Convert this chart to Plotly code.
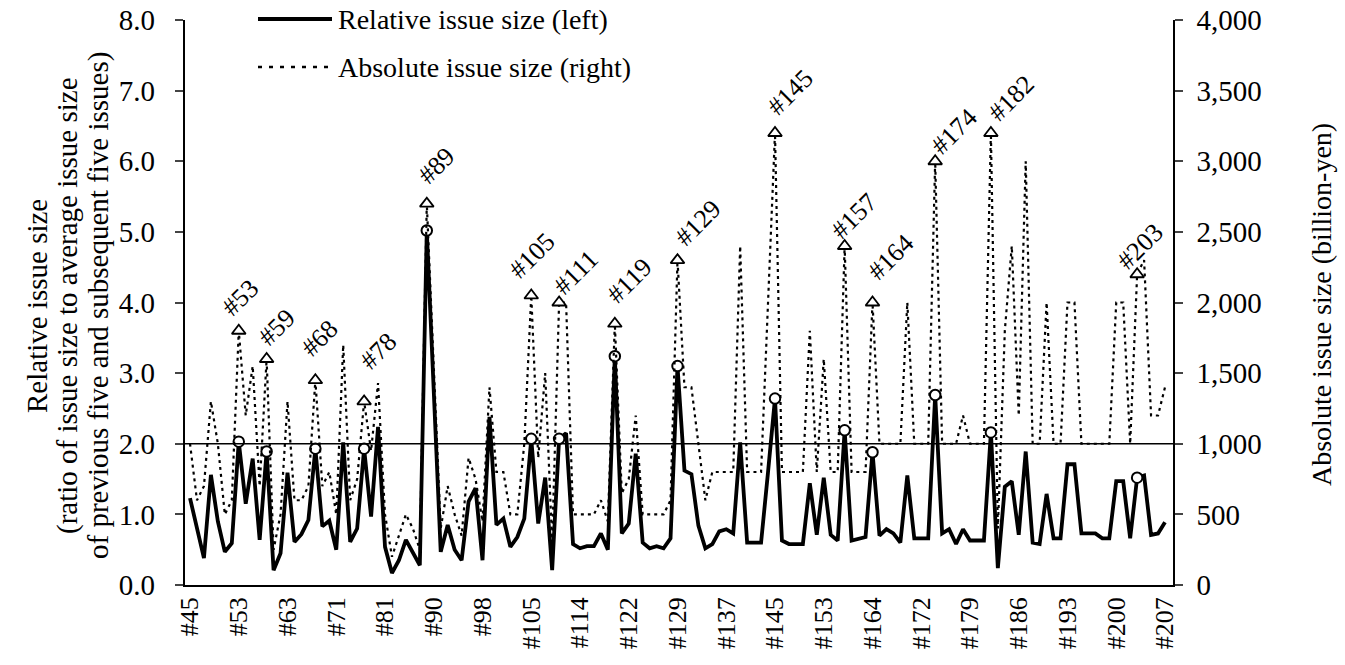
import plotly.graph_objects as go

tick_labels = ["#45", "#53", "#63", "#71", "#81", "#90", "#98", "#105", "#114", "#122", "#129",
               "#137", "#145", "#153", "#164", "#172", "#179", "#186", "#193", "#200", "#207"]

relative = [1.23, 0.8, 0.38, 1.56, 0.9, 0.47, 0.59, 2.03,
            1.15, 1.79, 0.64, 1.89, 0.21, 0.45, 1.59,
            0.61, 0.72, 0.92, 1.93, 0.83, 0.91, 0.5,
            2.02, 0.61, 0.8, 1.93, 0.97, 2.24, 0.54,
            0.17, 0.35, 0.64, 0.45, 0.28, 5.02, 2.7,
            0.47, 0.85, 0.5, 0.35, 1.18, 1.37, 0.35,
            2.38, 0.85, 0.94, 0.54, 0.68, 0.94, 2.07,
            0.87, 1.52, 0.21, 2.07, 2.15, 0.58, 0.52,
            0.55, 0.55, 0.73, 0.5, 3.24, 0.73, 0.87,
            1.86, 0.6, 0.52, 0.55, 0.52, 0.66, 3.1,
            1.62, 1.57, 0.84, 0.52, 0.58, 0.76, 0.79,
            0.73, 2.02, 0.6, 0.6, 0.6, 1.6, 2.64,
            0.63, 0.58, 0.58, 0.58, 1.44, 0.71, 1.52,
            0.71, 0.63, 2.19, 0.63, 0.66, 0.68, 1.88,
            0.7, 0.79, 0.73, 0.6, 1.55, 0.66, 0.66, 0.66, 2.69,
            0.73, 0.79, 0.58, 0.79, 0.63, 0.63, 0.63, 2.16,
            0.24, 1.39, 1.47, 0.71, 1.89, 0.6, 0.58, 1.29,
            0.66, 0.66, 1.71, 1.71, 0.73, 0.73, 0.73, 0.66,
            0.66, 1.47, 1.47, 0.66, 1.52, 1.55, 0.71, 0.73, 0.89]

absolute = [1000, 600, 700, 1300, 1000, 500, 600, 1800,
            1200, 1550, 700, 1600, 250, 500, 1300,
            600, 600, 700, 1450, 700, 800, 500,
            1700, 600, 750, 1300, 950, 1430, 500,
            200, 350, 500, 400, 250, 2700, 1600,
            400, 700, 500, 350, 900, 750, 450,
            1400, 800, 800, 500, 500, 1000, 2050,
            900, 1500, 300, 2000, 2000, 500, 500,
            500, 500, 600, 450, 1850, 650, 750,
            1200, 500, 500, 500, 500, 600, 2300,
            1400, 1400, 1000, 600, 800, 800, 800,
            800, 2400, 800, 800, 800, 2000, 3200,
            800, 800, 800, 800, 1800, 800, 1600,
            800, 800, 2400, 800, 800, 800, 2000,
            1000, 1000, 1000, 1000, 2000, 1000, 1000, 1000, 3000,
            1000, 1000, 1000, 1200, 1000, 1000, 1000, 3200,
            400, 1800, 2400, 1200, 3000, 1000, 1000, 2000,
            1000, 1000, 2000, 2000, 1000, 1000, 1000, 1000,
            1000, 2000, 2000, 1000, 2200, 2300, 1200, 1200, 1400]

marked_labels = ["#53", "#59", "#68", "#78", "#89", "#105", "#111", "#119",
                 "#129", "#145", "#157", "#164", "#174", "#182", "#203"]
marked_index = [7, 11, 18, 25, 34, 49, 53, 61, 70, 84, 94, 98, 107, 115, 136]
# label placement (pixel offset of the text centre from its triangle)
label_dx = [2, 10, 4, 14, 10, 1, 17, 15, 20, 15, 9, 18, 19, 20, 3]
label_dy = [33, 32, 42, 50, 38, 40, 30, 43, 37, 41, 30, 45, 30, 35, 28]

FONT = "Liberation Serif"
W, H = 1345, 665
PLOT_L, PLOT_R, PLOT_T, PLOT_B = 185, 1173, 20, 585   # pixel box of the plot area
PW, PH = PLOT_R - PLOT_L, PLOT_B - PLOT_T
NBSP = "\u00a0"


def px(xp):
    return (xp - PLOT_L) / PW


def py(yp):
    return (PLOT_B - yp) / PH


x = list(range(len(relative)))

fig = go.Figure()
fig.add_trace(go.Scatter(x=x, y=absolute, yaxis="y2", mode="lines",
                         line=dict(color="black", width=2.2, dash="3px,4px"),
                         name="Absolute issue size (right)", showlegend=False))
fig.add_trace(go.Scatter(x=x, y=relative, mode="lines",
                         line=dict(color="black", width=3.8),
                         name="Relative issue size (left)", showlegend=False))
fig.add_trace(go.Scatter(x=marked_index, y=[relative[i] for i in marked_index], mode="markers",
                         marker=dict(symbol="circle", size=10.5, color="white",
                                     line=dict(color="black", width=2)),
                         showlegend=False, hoverinfo="skip"))
fig.add_trace(go.Scatter(x=marked_index, y=[absolute[i] for i in marked_index], yaxis="y2",
                         mode="markers",
                         marker=dict(symbol="triangle-up", size=12, color="white",
                                     line=dict(color="black", width=1.8)),
                         showlegend=False, hoverinfo="skip"))

annotations = []
for lab, i, dx, dy in zip(marked_labels, marked_index, label_dx, label_dy):
    annotations.append(dict(x=i, y=absolute[i], xref="x", yref="y2", text=lab,
                            textangle=-45, showarrow=False, xanchor="center", yanchor="middle",
                            xshift=dx, yshift=dy, font=dict(family=FONT, size=26, color="black")))

# y-axis titles
left_titles = ["Relative issue size",
               "(ratio of issue size to average issue size",
               "of previous five and subsequent five issues)"]
left_title_x = [37, 67, 98]
for t, xp in zip(left_titles, left_title_x):
    annotations.append(dict(x=px(xp), y=py(306), xref="paper", yref="paper",
                            text=t, textangle=-90, showarrow=False,
                            xanchor="center", yanchor="middle",
                            font=dict(family=FONT, size=29, color="black")))
annotations.append(dict(x=px(1321), y=py(305), xref="paper", yref="paper",
                        text="Absolute issue size (billion-yen)", textangle=-90, showarrow=False,
                        xanchor="center", yanchor="middle",
                        font=dict(family=FONT, size=28, color="black")))

# legend (drawn manually)
legend_items = [("Relative issue size (left)", "solid", 3.8, 19),
                ("Absolute issue size (right)", "4px,7px", 2.5, 67)]
shapes = []
for text, dash, w, ypix in legend_items:
    shapes.append(dict(type="line", xref="paper", yref="paper",
                       x0=px(258), x1=px(332), y0=py(ypix), y1=py(ypix),
                       line=dict(color="black", width=w, dash=dash)))
    annotations.append(dict(x=px(336), y=py(ypix), xref="paper", yref="paper",
                            text=text, showarrow=False, xanchor="left", yanchor="middle",
                            font=dict(family=FONT, size=28, color="black")))

# reference line at 2.0
shapes.append(dict(type="line", xref="paper", yref="y", x0=0, x1=1, y0=2, y1=2,
                   line=dict(color="black", width=1.5)))

fig.update_layout(
    width=W, height=H,
    margin=dict(l=PLOT_L, r=W - PLOT_R, t=PLOT_T, b=H - PLOT_B),
    plot_bgcolor="white", paper_bgcolor="white",
    font=dict(family=FONT, size=26, color="black"),
    showlegend=False,
    annotations=annotations,
    shapes=shapes,
    xaxis=dict(range=[-0.72, 141.15], tickmode="array", tickvals=list(range(0, 141, 7)),
               ticktext=tick_labels, tickangle=-90, showline=True, linecolor="black",
               linewidth=1.5, ticks="", showgrid=False, zeroline=False, automargin=False,
               tickfont=dict(family=FONT, size=26)),
    yaxis=dict(range=[0, 8], dtick=1, tickformat=".1f", ticks="outside", ticklen=8,
               tickwidth=1.5, showline=True, linecolor="black", linewidth=1.5,
               ticksuffix=NBSP * 2, ticklabeloverflow="allow", automargin=False,
               showgrid=False, zeroline=False, tickfont=dict(family=FONT, size=29)),
    yaxis2=dict(range=[0, 4000], dtick=500, tickformat=",", ticks="outside", ticklen=8,
                tickwidth=1.5, showline=True, linecolor="black", linewidth=1.5,
                ticklabelstandoff=8, ticklabeloverflow="allow", automargin=False,
                overlaying="y", side="right", showgrid=False, zeroline=False,
                tickfont=dict(family=FONT, size=29)),
)

# remove the default 8px page margin so the figure fills the window exactly
fig.write_html("out.html", config={"displayModeBar": False},
               post_script="document.body.style.margin='0px';")
